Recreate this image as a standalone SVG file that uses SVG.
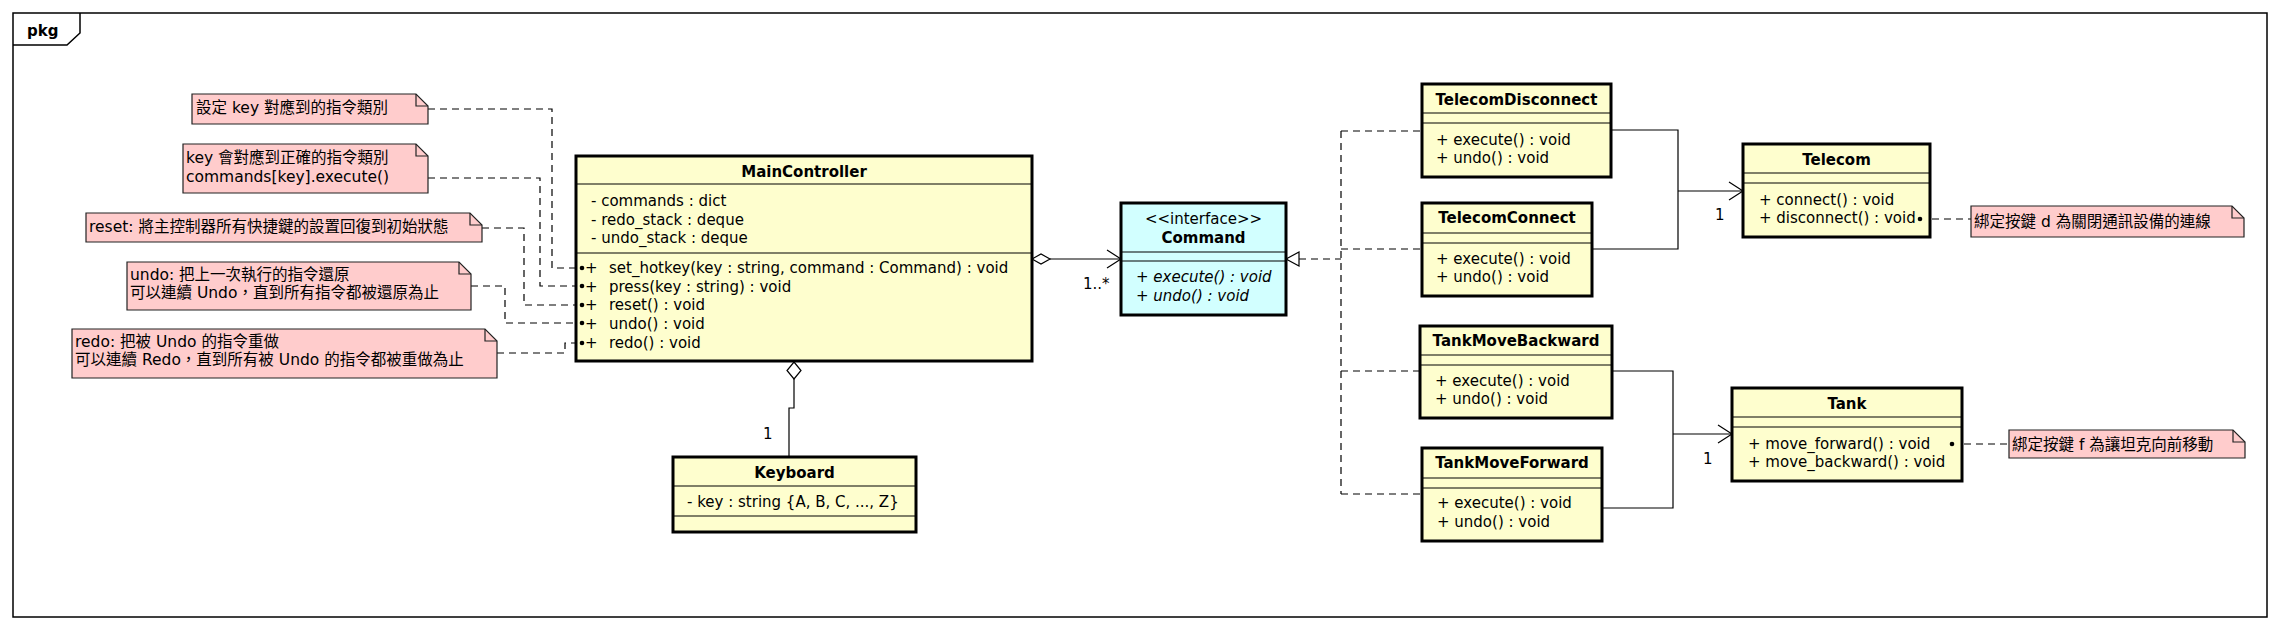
<svg xmlns="http://www.w3.org/2000/svg" width="2282" height="630" viewBox="0 0 2282 630">
<style>
text{font-family:"DejaVu Sans","Noto Sans CJK TC",sans-serif;font-size:15px;fill:#000}
.t{font-weight:bold;text-anchor:middle}
.it{font-style:italic}
.cls{fill:#FEFECE;stroke:#000;stroke-width:3}
.ifc{fill:#D2FFFF;stroke:#000;stroke-width:3}
.div{stroke:#000;stroke-width:1.2}
.note{fill:#FFCCCC;stroke:#222;stroke-width:1.2}
.fold{fill:none;stroke:#222;stroke-width:1.2}
.nt{font-size:15.5px}
.dash{fill:none;stroke:#000;stroke-width:1.2;stroke-dasharray:7,5}
.solid{fill:none;stroke:#000;stroke-width:1.2}
.dot{fill:#000}
</style>
<rect width="2282" height="630" fill="#fff"/>
<g id="frame">
<rect x="13" y="13" width="2254" height="604" fill="none" stroke="#000" stroke-width="1.5"/>
<path d="M13,45 H67 L80,33 V13" fill="none" stroke="#000" stroke-width="1.5"/>
<text x="27" y="36" style="font-weight:bold">pkg</text>
</g>

<g id="connectors">
<!-- notes to MainController -->
<path class="dash" d="M428,109 H552 V268 H576"/>
<path class="dash" d="M428,178 H540 V286 H576"/>
<path class="dash" d="M482,228 H524 V305 H576"/>
<path class="dash" d="M471,286 H505 V323 H576"/>
<path class="dash" d="M497,353 H565 V343 H576"/>
<!-- MainController o-> Command -->
<path class="solid" d="M1050,259 H1121"/>
<path d="M1032,259 L1041,254 L1050,259 L1041,264 Z" fill="#fff" stroke="#000" stroke-width="1.2"/>
<path class="solid" d="M1107,250 L1121,259 L1107,268"/>
<text x="1083" y="289">1..*</text>
<!-- MainController o- Keyboard -->
<path class="solid" d="M794,379 V408 H789 V457"/>
<path d="M794,362 L801,370.5 L794,379 L787,370.5 Z" fill="#fff" stroke="#000" stroke-width="1.2"/>
<text x="763" y="439">1</text>
<!-- realizations -->
<path class="dash" d="M1299,259 H1341"/>
<path class="dash" d="M1341,131 V494"/>
<path class="dash" d="M1341,131 H1422"/>
<path class="dash" d="M1341,249 H1422"/>
<path class="dash" d="M1341,371 H1420"/>
<path class="dash" d="M1341,494 H1422"/>
<path d="M1286,259 L1299,252 L1299,266 Z" fill="#fff" stroke="#000" stroke-width="1.2"/>
<!-- Telecom commands -> Telecom -->
<path class="solid" d="M1611,130 H1678 V249 H1592"/>
<path class="solid" d="M1678,191 H1743"/>
<path class="solid" d="M1729,182 L1743,191 L1729,200"/>
<text x="1715" y="220">1</text>
<!-- Tank commands -> Tank -->
<path class="solid" d="M1612,371 H1673 V508 H1602"/>
<path class="solid" d="M1673,434 H1732"/>
<path class="solid" d="M1718,425 L1732,434 L1718,443"/>
<text x="1703" y="464">1</text>
<!-- right notes -->
<path class="dash" d="M1920,219 H1971"/>
<path class="dash" d="M1952,444 H2009"/>
</g>

<g id="note1">
<path class="note" d="M192,94 H416 L428,106 V124 H192 Z"/>
<path class="fold" d="M416,94 V106 H428"/>
<text class="nt" x="196" y="113">設定 key 對應到的指令類別</text>
</g>
<g id="note2">
<path class="note" d="M183,144 H416 L428,156 V193 H183 Z"/>
<path class="fold" d="M416,144 V156 H428"/>
<text class="nt" x="186" y="163">key 會對應到正確的指令類別</text>
<text class="nt" x="186" y="182">commands[key].execute()</text>
</g>
<g id="note3">
<path class="note" d="M86,213 H470 L482,225 V242 H86 Z"/>
<path class="fold" d="M470,213 V225 H482"/>
<text class="nt" x="89" y="232">reset: 將主控制器所有快捷鍵的設置回復到初始狀態</text>
</g>
<g id="note4">
<path class="note" d="M127,262 H459 L471,274 V310 H127 Z"/>
<path class="fold" d="M459,262 V274 H471"/>
<text class="nt" x="130" y="280">undo: 把上一次執行的指令還原</text>
<text class="nt" x="130" y="298">可以連續 Undo，直到所有指令都被還原為止</text>
</g>
<g id="note5">
<path class="note" d="M72,329 H485 L497,341 V378 H72 Z"/>
<path class="fold" d="M485,329 V341 H497"/>
<text class="nt" x="75" y="347">redo: 把被 Undo 的指令重做</text>
<text class="nt" x="75" y="365">可以連續 Redo，直到所有被 Undo 的指令都被重做為止</text>
</g>

<g id="MainController">
<rect class="cls" x="576" y="156" width="456" height="205"/>
<line class="div" x1="576" y1="184" x2="1032" y2="184"/>
<line class="div" x1="576" y1="253" x2="1032" y2="253"/>
<text class="t" x="804" y="177">MainController</text>
<text x="591" y="206">- commands : dict</text>
<text x="591" y="225">- redo_stack : deque</text>
<text x="591" y="243">- undo_stack : deque</text>
<circle class="dot" cx="582" cy="268" r="2.3"/>
<circle class="dot" cx="582" cy="286" r="2.3"/>
<circle class="dot" cx="582" cy="305" r="2.3"/>
<circle class="dot" cx="582" cy="323" r="2.3"/>
<circle class="dot" cx="582" cy="343" r="2.3"/>
<text y="273"><tspan x="585">+</tspan><tspan x="609">set_hotkey(key : string, command : Command) : void</tspan></text>
<text y="292"><tspan x="585">+</tspan><tspan x="609">press(key : string) : void</tspan></text>
<text y="310"><tspan x="585">+</tspan><tspan x="609">reset() : void</tspan></text>
<text y="329"><tspan x="585">+</tspan><tspan x="609">undo() : void</tspan></text>
<text y="348"><tspan x="585">+</tspan><tspan x="609">redo() : void</tspan></text>
</g>

<g id="Keyboard">
<rect class="cls" x="673" y="457" width="243" height="75"/>
<line class="div" x1="673" y1="486" x2="916" y2="486"/>
<line class="div" x1="673" y1="516" x2="916" y2="516"/>
<text class="t" x="794.5" y="478">Keyboard</text>
<text x="687" y="507">- key : string {A, B, C, ..., Z}</text>
</g>

<g id="Command">
<rect class="ifc" x="1121" y="203" width="165" height="112"/>
<line class="div" x1="1121" y1="252" x2="1286" y2="252"/>
<line class="div" x1="1121" y1="261" x2="1286" y2="261"/>
<text x="1203.5" y="224" text-anchor="middle">&lt;&lt;interface&gt;&gt;</text>
<text class="t" x="1203.5" y="243">Command</text>
<text class="it" x="1136" y="282">+ execute() : void</text>
<text class="it" x="1136" y="301">+ undo() : void</text>
</g>

<g id="TelecomDisconnect">
<rect class="cls" x="1422" y="84" width="189" height="93"/>
<line class="div" x1="1422" y1="113" x2="1611" y2="113"/>
<line class="div" x1="1422" y1="123" x2="1611" y2="123"/>
<text class="t" x="1516.5" y="105">TelecomDisconnect</text>
<text x="1436" y="145">+ execute() : void</text>
<text x="1436" y="163">+ undo() : void</text>
</g>

<g id="TelecomConnect">
<rect class="cls" x="1422" y="203" width="170" height="93"/>
<line class="div" x1="1422" y1="233" x2="1592" y2="233"/>
<line class="div" x1="1422" y1="243" x2="1592" y2="243"/>
<text class="t" x="1507" y="223">TelecomConnect</text>
<text x="1436" y="264">+ execute() : void</text>
<text x="1436" y="282">+ undo() : void</text>
</g>

<g id="TankMoveBackward">
<rect class="cls" x="1420" y="326" width="192" height="92"/>
<line class="div" x1="1420" y1="355" x2="1612" y2="355"/>
<line class="div" x1="1420" y1="365" x2="1612" y2="365"/>
<text class="t" x="1516" y="346">TankMoveBackward</text>
<text x="1435" y="386">+ execute() : void</text>
<text x="1435" y="404">+ undo() : void</text>
</g>

<g id="TankMoveForward">
<rect class="cls" x="1422" y="448" width="180" height="93"/>
<line class="div" x1="1422" y1="478" x2="1602" y2="478"/>
<line class="div" x1="1422" y1="488" x2="1602" y2="488"/>
<text class="t" x="1512" y="468">TankMoveForward</text>
<text x="1437" y="508">+ execute() : void</text>
<text x="1437" y="527">+ undo() : void</text>
</g>

<g id="Telecom">
<rect class="cls" x="1743" y="144" width="187" height="93"/>
<line class="div" x1="1743" y1="173" x2="1930" y2="173"/>
<line class="div" x1="1743" y1="183" x2="1930" y2="183"/>
<text class="t" x="1836.5" y="165">Telecom</text>
<text x="1759" y="205">+ connect() : void</text>
<text x="1759" y="223">+ disconnect() : void</text>
<circle class="dot" cx="1920" cy="219" r="2.3"/>
</g>

<g id="Tank">
<rect class="cls" x="1732" y="388" width="230" height="93"/>
<line class="div" x1="1732" y1="417" x2="1962" y2="417"/>
<line class="div" x1="1732" y1="427" x2="1962" y2="427"/>
<text class="t" x="1847" y="409">Tank</text>
<text x="1748" y="449">+ move_forward() : void</text>
<text x="1748" y="467">+ move_backward() : void</text>
<circle class="dot" cx="1952" cy="444" r="2.3"/>
</g>

<g id="noteTelecom">
<path class="note" d="M1971,206 H2232 L2244,218 V237 H1971 Z"/>
<path class="fold" d="M2232,206 V218 H2244"/>
<text class="nt" x="1974" y="227">綁定按鍵 d 為關閉通訊設備的連線</text>
</g>
<g id="noteTank">
<path class="note" d="M2009,430 H2233 L2245,442 V458 H2009 Z"/>
<path class="fold" d="M2233,430 V442 H2245"/>
<text class="nt" x="2012" y="450">綁定按鍵 f 為讓坦克向前移動</text>
</g>
</svg>
